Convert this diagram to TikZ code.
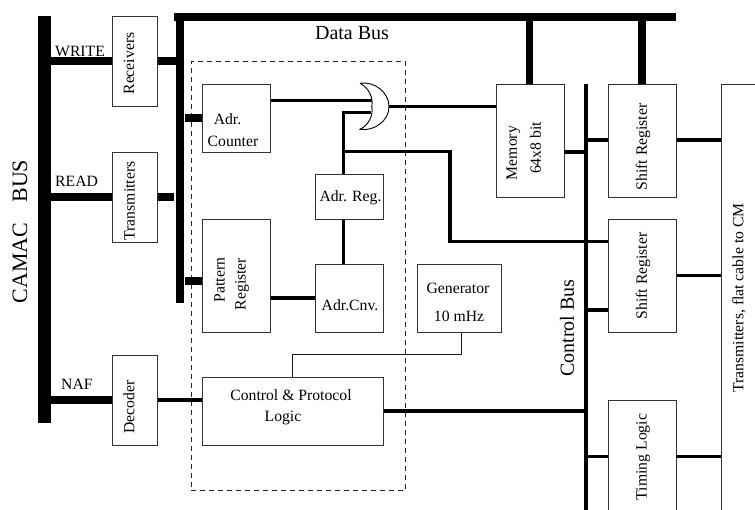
\documentclass[tikz,border=0pt]{standalone}
\usepackage{fontspec}
\setmainfont{Liberation Serif}
\tikzset{
  x=1pt,y=-1pt,
  box/.style={draw=black!80,line width=0.9pt,fill=white,inner sep=0pt,anchor=north west},
  bus/.style={fill=black,draw=none,inner sep=0pt,anchor=north west},
  txt/.style={inner sep=0pt,font=\fontsize{15.7}{18}\selectfont,align=center},
  vtxt/.style={txt,rotate=90},
  lab/.style={inner sep=0pt,font=\fontsize{15.7}{18}\selectfont},
  heavy/.style={line width=7.5pt},
  medium/.style={line width=3.2pt},
  thin line/.style={line width=0.9pt,black!90},
}
\newcommand{\blockat}[5]{\node[box,minimum width=#4pt,minimum height=#5pt] (#1) at (#2,#3) {};}
\newcommand{\barat}[5]{\node[bus,minimum width=#4pt,minimum height=#5pt] (#1) at (#2,#3) {};}
\begin{document}
\begin{tikzpicture}
\useasboundingbox (0,0) rectangle (755,510);
% dashed frame
\node[draw=black!85,dashed,line width=0.8pt,dash pattern=on 5pt off 4pt,inner sep=0pt,anchor=north west,minimum width=214.3pt,minimum height=428.7pt] (frame) at (191,61.3) {};
% buses
\barat{camac}{38}{16}{12.5}{406.5}
\barat{dbus}{175.5}{16}{8}{287}
\barat{topbus}{174}{13}{502}{7.5}
\barat{cbus}{584}{84}{3.5}{426}
% blocks
\blockat{recv}{111.7}{16}{45.3}{90.5}
\blockat{trans}{111.7}{152}{45.3}{90}
\blockat{dec}{111.7}{355}{45.3}{90}
\blockat{cnt}{202}{84}{68}{68}
\blockat{pat}{202}{219.5}{68}{112.5}
\blockat{areg}{315}{174.5}{68}{45}
\blockat{acnv}{315}{264.5}{68}{67.5}
\blockat{ctl}{202}{377}{181}{68}
\blockat{gen}{416.5}{264.5}{84.5}{67.5}
\blockat{mem}{495.5}{84}{68}{113}
\blockat{sra}{608}{84}{68}{113}
\blockat{srb}{608}{219.5}{68}{112.5}
% open-ended blocks
\coordinate (timNW) at (608,400); \coordinate (timNE) at (676,400);
\coordinate (timSW) at (608,510); \coordinate (timSE) at (676,510);
\coordinate (txNW) at (721,84); \coordinate (txNE) at (755,84); \coordinate (txSW) at (721,510);
\draw[black!80,line width=0.9pt] (timSW) -- (timNW) -- (timNE) -- (timSE);
\draw[black!80,line width=0.9pt] (txNE) -- (txNW) -- (txSW);
% heavy connectors
\draw[heavy] (camac.east |- 0,61) -- (recv.west |- 0,61);
\draw[heavy] (recv.east |- 0,61) -- (dbus.west |- 0,61);
\draw[heavy] (camac.east |- 0,197) -- (trans.west |- 0,197);
\draw[heavy] (trans.east |- 0,197) -- (174,197);
\draw[heavy] (camac.east |- 0,400) -- (dec.west |- 0,400);
\draw[heavy] (185,118) -- (cnt.west |- 0,118);
\draw[heavy] (185,281) -- (pat.west |- 0,281);
\draw[heavy] (mem.north -| 529.3,0) -- (topbus.south -| 529.3,0);
\draw[heavy] (sra.north -| 642,0) -- (topbus.south -| 642,0);
% OR gate
\coordinate (orOut) at (389,106.7);
\coordinate (orInA) at (372,100.7);
\coordinate (orInB) at (371,112.7);
% medium connectors
\draw[medium] (dec.east |- 0,400) -- (ctl.west |- 0,400);
\draw[medium] (cnt.east |- 0,100.7) -- (orInA);
\draw[medium] (areg.north -| 343.3,0) -- (343.3,112.7) -- (orInB);
\draw[medium] (orOut) -- (mem.west |- orOut);
\draw[medium] (343.3,151.7) -- (450,151.7) -- (450,241.7) -- (srb.west |- 0,241.7);
\draw[medium] (areg.south -| 343.3,0) -- (acnv.north -| 343.3,0);
\draw[medium] (pat.east |- 0,298) -- (acnv.west |- 0,298);
\draw[medium] (ctl.east |- 0,411) -- (cbus.west |- 0,411);
\draw[medium] (mem.east |- 0,152) -- (cbus.west |- 0,152);
\draw[medium] (cbus.east |- 0,140) -- (sra.west |- 0,140);
\draw[medium] (sra.east |- 0,140) -- (txNW |- 0,140);
\draw[medium] (cbus.east |- 0,310) -- (srb.west |- 0,310);
\draw[medium] (srb.east |- 0,275.7) -- (txNW |- 0,275.7);
\draw[medium] (cbus.east |- 0,456.7) -- (timNW |- 0,456.7);
\draw[medium] (timNE |- 0,456.7) -- (txNW |- 0,456.7);
% generator link
\draw[thin line] (gen.south -| 461.7,0) -- (461.7,354.7) -- (292.3,354.7) -- (ctl.north -| 292.3,0);
% OR shape
\coordinate (orA) at (360,83.3);
\coordinate (orB) at (360,129.3);
\draw[line width=0.9pt,fill=white] (orA) .. controls (369,88) and (373.5,98) .. (371.8,106.5) .. controls (373.5,115) and (369,125) .. (orB)
  .. controls (374,131.5) and (389,121) .. (orOut) .. controls (389,92) and (374,81) .. (orA);
% texts
\node[inner sep=0pt,font=\fontsize{22}{26}\selectfont,rotate=90] (tcamac) at (20,231.5) {CAMAC\hspace{20pt}BUS};
\node[inner sep=0pt,font=\fontsize{20}{24}\selectfont] (tdata) at (352,33) {Data Bus};
\node[inner sep=0pt,font=\fontsize{20}{24}\selectfont,rotate=90] (tctl) at (567,328) {Control Bus};
\node[lab,anchor=west] (twrite) at (55,51) {WRITE};
\node[lab,anchor=west] (tread) at (55,181) {READ};
\node[lab,anchor=west] (tnaf) at (61,384) {NAF};
\node[vtxt] at (129,63.5) {Receivers};
\node[vtxt] at (129.5,201) {Transmitters};
\node[vtxt] at (129,407) {Decoder};
\node[txt] at (227.5,119) {Adr.};
\node[txt] at (233,141) {Counter};
\node[vtxt] at (219.5,280) {Pattern};
\node[vtxt] at (242,284) {Register};
\node[txt] at (350.5,198) {Adr. Reg.};
\node[txt] at (350,305) {Adr.Cnv.};
\node[txt] at (458,288) {Generator};
\node[txt] at (459,316) {10 mHz};
\node[txt] at (291,395) {Control \& Protocol};
\node[txt] at (283,418) {Logic};
\node[vtxt] at (513.5,153) {Memory};
\node[vtxt] at (535.5,148) {64x8 bit};
\node[vtxt] at (643,147) {Shift Register};
\node[vtxt] at (643,276) {Shift Register};
\node[vtxt] at (643,457) {Timing Logic};
\node[vtxt] at (739,298) {Transmitters, flat cable to CM};
\end{tikzpicture}
\end{document}
